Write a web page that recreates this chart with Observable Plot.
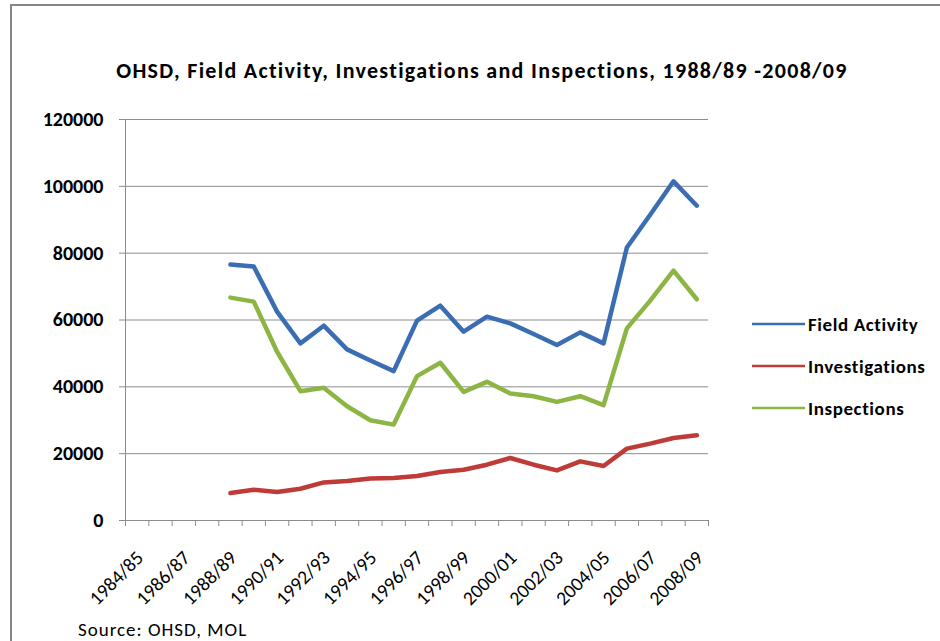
<!DOCTYPE html>
<html><head><meta charset="utf-8">
<script src="https://cdn.jsdelivr.net/npm/d3@7"></script>
<script src="https://cdn.jsdelivr.net/npm/@observablehq/plot@0.6"></script>
<style>
body{margin:0;background:#fff;}
#wrap{position:relative;width:940px;height:641px;overflow:hidden;font-family:Carlito,Calibri,"Open Sans",sans-serif;color:#000;}
#frame{position:absolute;left:10px;top:4px;width:1000px;height:700px;border:2px solid #868686;box-sizing:border-box;}
#chart{position:absolute;left:0;top:0;}
#title{position:absolute;left:0;width:964px;top:57px;text-align:center;font-size:22px;letter-spacing:1.3px;font-weight:bold;white-space:nowrap;}
#legend{position:absolute;left:752px;top:303px;}
.lg{display:flex;align-items:center;height:42px;font-size:19px;letter-spacing:0.6px;font-weight:bold;white-space:nowrap;}
.lg svg{margin-right:3px;}
#source{position:absolute;left:78px;top:618px;font-size:19px;letter-spacing:1px;white-space:nowrap;}
</style>
</head><body>
<div id="wrap">
  <div id="frame"></div>
  <div id="chart"></div>
  <div id="title"></div>
  <div id="legend"></div>
  <div id="source"></div>
</div>
<script>
const titleText = "OHSD, Field Activity, Investigations and Inspections, 1988/89 -2008/09";
const sourceText = "Source: OHSD, MOL";
const categories = ["1984/85","1985/86","1986/87","1987/88","1988/89","1989/90","1990/91","1991/92","1992/93","1993/94","1994/95","1995/96","1996/97","1997/98","1998/99","1999/00","2000/01","2001/02","2002/03","2003/04","2004/05","2005/06","2006/07","2007/08","2008/09"];
const tickLabels = ["1984/85","1986/87","1988/89","1990/91","1992/93","1994/95","1996/97","1998/99","2000/01","2002/03","2004/05","2006/07","2008/09"];
const years = ["1988/89","1989/90","1990/91","1991/92","1992/93","1993/94","1994/95","1995/96","1996/97","1997/98","1998/99","1999/00","2000/01","2001/02","2002/03","2003/04","2004/05","2005/06","2006/07","2007/08","2008/09"];
const fieldActivity = [76600,76000,62500,53000,58300,51200,47900,44700,59800,64300,56500,61000,59000,55800,52500,56300,53000,81700,91500,101500,94200];
const investigations = [8200,9200,8500,9500,11400,11800,12600,12700,13300,14500,15200,16700,18700,16700,15000,17700,16300,21500,23000,24700,25500];
const inspections = [66700,65500,50500,38700,39700,34200,30000,28700,43200,47200,38500,41500,38000,37200,35500,37200,34500,57500,65800,74800,66200];
const seriesNames = ["Field Activity","Investigations","Inspections"];
const seriesColors = ["#3b6db3","#be3b37","#8cb543"];
const yTicks = [0,20000,40000,60000,80000,100000,120000];

const idx = new Map(categories.map((c,i)=>[c,i]));
const seriesValues = [fieldActivity, investigations, inspections];
const rows = [];
seriesNames.forEach((s,k)=>years.forEach((yr,i)=>rows.push({series:s, year:yr, value:seriesValues[k][i]})));

const gridColor = "#8c8c8c";
const plot = Plot.plot({
  width:940, height:641,
  marginLeft:125, marginRight:232, marginTop:119, marginBottom:121,
  style:{fontFamily:'Carlito, Calibri, "Open Sans", sans-serif', background:"transparent", color:"#000"},
  x:{domain:[0, categories.length], axis:null},
  y:{domain:[0,120000], axis:null},
  color:{domain:seriesNames, range:seriesColors},
  marks:[
    Plot.gridY(yTicks,{stroke:gridColor, strokeOpacity:1, strokeWidth:1}),
    Plot.axisY(yTicks,{label:null, tickSize:6, tickPadding:16, tickFormat:d=>String(d), fontSize:20, fontWeight:"bold", stroke:gridColor, fill:"#000", style:{letterSpacing:"1.2px"}}),
    Plot.axisX(d3.range(categories.length+1),{label:null, tickSize:6, tickFormat:()=>"", stroke:gridColor}),
    Plot.ruleX([0],{stroke:gridColor, strokeWidth:1}),
    Plot.ruleY([0],{stroke:gridColor, strokeWidth:1}),
    Plot.text(tickLabels,{x:d=>idx.get(d)+0.5, frameAnchor:"bottom", text:d=>d, rotate:-45, textAnchor:"end", lineAnchor:"middle", dx:3, dy:34, fontSize:19.5, fill:"#000", style:{letterSpacing:"1px"}}),
    Plot.line(rows,{x:d=>idx.get(d.year)+0.5, y:"value", z:"series", stroke:"series", strokeWidth:4.5, strokeLinejoin:"round", strokeLinecap:"round"})
  ]
});
document.getElementById("chart").appendChild(plot);
document.getElementById("title").textContent = titleText;
document.getElementById("source").textContent = sourceText;
const lg = document.getElementById("legend");
seriesNames.forEach((s,k)=>{
  const row = document.createElement("div");
  row.className = "lg";
  row.innerHTML = `<svg width="53" height="6"><line x1="0" y1="3" x2="53" y2="3" stroke="${seriesColors[k]}" stroke-width="2.5"/></svg><span></span>`;
  row.querySelector("span").textContent = s;
  lg.appendChild(row);
});
</script>
</body></html>
